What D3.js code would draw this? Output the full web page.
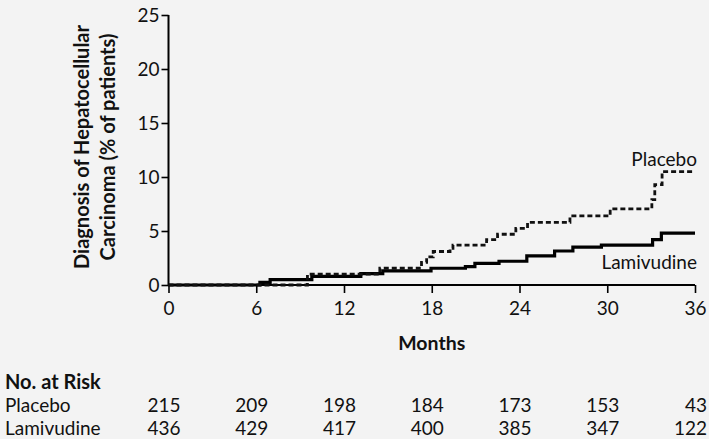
<!DOCTYPE html>
<html>
<head>
<meta charset="utf-8">
<script src="https://cdn.jsdelivr.net/npm/d3@7"></script>
<style>
  html, body { margin: 0; padding: 0; background: #f3f3f3; }
  svg { display: block; font-family: Lato, 'Open Sans', sans-serif; }
</style>
</head>
<body>
<div id="chart"></div>
<script>
// Kaplan-Meier style step data (months, % of patients)
const placeboMonths = [0, 9.5, 14.45, 17.3, 17.65, 18.1, 19.25, 19.45, 21.75, 22.5, 23.75, 24.55, 27.45, 30.2, 33.05, 33.25, 33.75, 36];
const placeboPct    = [0, 1.0, 1.55, 2.1, 2.6, 3.1, 3.4, 3.7, 4.2, 4.7, 5.25, 5.8, 6.4, 7.05, 7.9, 9.3, 10.5, 10.5];
const lamivudineMonths = [0, 6.25, 6.95, 9.8, 13.15, 14.65, 17.95, 20.3, 20.95, 22.6, 24.5, 26.4, 27.65, 29.6, 33.1, 33.7, 36];
const lamivudinePct    = [0, 0.25, 0.5, 0.8, 1.05, 1.3, 1.55, 1.7, 2.0, 2.2, 2.7, 3.15, 3.5, 3.7, 4.2, 4.8, 4.8];

const monthTicks = [0, 6, 12, 18, 24, 30, 36];
const pctTicks = [0, 5, 10, 15, 20, 25];
const riskGroups = ['Placebo', 'Lamivudine'];
const riskPlacebo = [215, 209, 198, 184, 173, 153, 43];
const riskLamivudine = [436, 429, 417, 400, 385, 347, 122];

const width = 709, height = 439;

const svg = d3.select('#chart').append('svg')
  .attr('width', width)
  .attr('height', height);

const x = d3.scaleLinear().domain([0, 36]).range([168.5, 695]);
const y = d3.scaleLinear().domain([0, 25]).range([285, 15]);

// axes
const xAxis = svg.append('g')
  .attr('transform', `translate(0,${y(0)})`)
  .call(d3.axisBottom(x).tickValues(monthTicks).tickSize(8).tickPadding(9).tickFormat(d3.format('d')));
const yAxis = svg.append('g')
  .attr('transform', `translate(${x(0)},0)`)
  .call(d3.axisLeft(y).tickValues(pctTicks).tickSize(7).tickPadding(2).tickFormat(d3.format('d')));

[xAxis, yAxis].forEach(g => {
  g.selectAll('.tick line').attr('stroke', '#000').attr('stroke-width', 1.6);
  g.selectAll('.tick text').attr('fill', '#111').style('font-size', '19px').style('font-family', 'Lato, sans-serif');
});
// plain axis lines (no end caps)
xAxis.select('.domain').attr('stroke', '#000').attr('stroke-width', 2).attr('d', `M${x(0)},0H${x(36)}`);
yAxis.select('.domain').attr('stroke', '#000').attr('stroke-width', 2).attr('d', `M0,${y(25)}V${y(0)}`);

// curves
const toPoints = (ms, ps) => ms.map((m, i) => [m, ps[i]]);
const line = d3.line()
  .x(d => x(d[0]))
  .y(d => y(d[1]))
  .curve(d3.curveStepAfter);

svg.append('path')
  .datum(toPoints(lamivudineMonths, lamivudinePct))
  .attr('d', line)
  .attr('fill', 'none')
  .attr('stroke', '#000')
  .attr('stroke-width', 3.2);

svg.append('path')
  .datum(toPoints(placeboMonths, placeboPct))
  .attr('d', line)
  .attr('fill', 'none')
  .attr('stroke', '#111')
  .attr('stroke-width', 2.8)
  .attr('stroke-dasharray', '5,3');

// curve labels
svg.append('text')
  .attr('x', 697).attr('y', 166)
  .attr('text-anchor', 'end')
  .style('font-size', '19px')
  .attr('fill', '#111')
  .text('Placebo');
svg.append('text')
  .attr('x', 697).attr('y', 269)
  .attr('text-anchor', 'end')
  .style('font-size', '19px')
  .attr('fill', '#111')
  .text('Lamivudine');

// y title
const yTitle = svg.append('text')
  .attr('transform', 'rotate(-90)')
  .attr('text-anchor', 'middle')
  .style('font-size', '20px')
  .style('font-weight', 'bold')
  .attr('fill', '#111');
yTitle.append('tspan').attr('x', -147).attr('y', 89).text('Diagnosis of Hepatocellular');
yTitle.append('tspan').attr('x', -147).attr('y', 115).text('Carcinoma (% of patients)');

// x title
svg.append('text')
  .attr('x', (x(0) + x(36)) / 2).attr('y', 350)
  .attr('text-anchor', 'middle')
  .style('font-size', '19.5px')
  .style('font-weight', 'bold')
  .attr('fill', '#111')
  .text('Months');

// number at risk table
svg.append('text')
  .attr('x', 5).attr('y', 389)
  .style('font-size', '20px')
  .style('font-weight', 'bold')
  .attr('fill', '#111')
  .text('No. at Risk');

const rows = [riskPlacebo, riskLamivudine];
rows.forEach((vals, r) => {
  const rowY = 412 + r * 23;
  svg.append('text')
    .attr('x', 5).attr('y', rowY)
    .style('font-size', '19px')
    .attr('fill', '#111')
    .text(riskGroups[r]);
  svg.selectAll(null)
    .data(vals)
    .enter().append('text')
    .attr('x', (d, i) => x(monthTicks[i]) + 12)
    .attr('y', rowY)
    .attr('text-anchor', 'end')
    .style('font-size', '19px')
    .attr('fill', '#111')
    .text(d => d);
});
</script>
</body>
</html>
